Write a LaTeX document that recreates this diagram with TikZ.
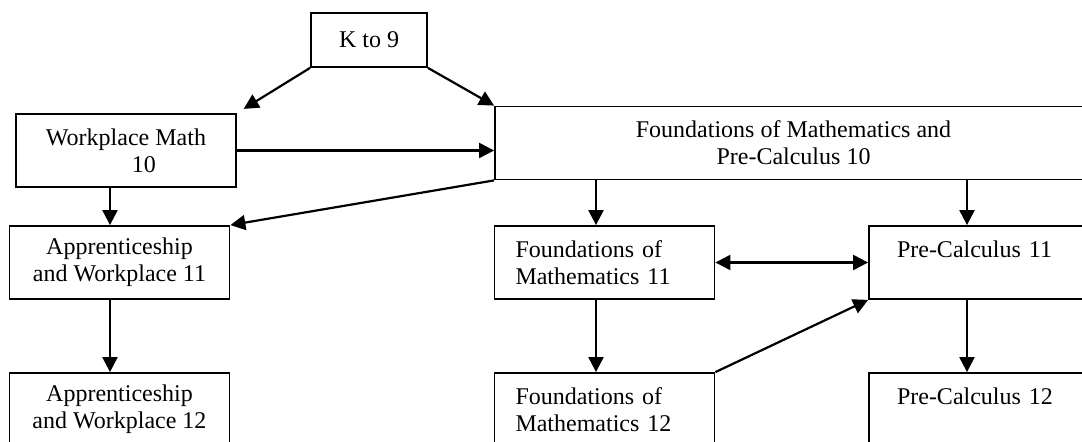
\documentclass[tikz,border=0pt]{standalone}
\usepackage{fontspec}
\setmainfont{Liberation Serif}
\usetikzlibrary{arrows.meta}

\begin{document}
\begin{tikzpicture}[x=0.5pt,y=-0.5pt,
    box/.style={draw, line width=0.9pt, minimum width=110pt, minimum height=36.5pt,
      inner sep=0pt, align=center, font=\fontsize{12}{13.5}\selectfont},
    fmbox/.style={box, align=left, inner xsep=10.5pt, text width=89pt},
    pcbox/.style={box, align=left, inner xsep=14pt, text width=82pt},
    arr/.style={-{Triangle[length=7.5pt,width=7.5pt]}, line width=1.1pt},
    darr/.style={{Triangle[length=7.5pt,width=7.5pt]}-{Triangle[length=7.5pt,width=7.5pt]}, line width=1.1pt}]

  \useasboundingbox (0,0) rectangle (1082,442);

  \begin{scope}
    \node[box, minimum width=58pt, minimum height=27pt] (k9) at (369,40) {K to 9};
    \node[box] (wm10) at (126,150.5) {Workplace Math\\\hspace*{18pt}10};
    \node[box, minimum width=298.5pt] (fmpc) at (793.5,143) {Foundations of Mathematics and\\Pre-Calculus 10};
    \node[box] (aw11) at (119.5,262.5) {Apprenticeship\\and Workplace 11};
    \node[fmbox] (fm11) at (604.5,262.5) {Foundations of\\Mathematics 11};
    \node[pcbox] (pc11) at (979,262.5) {Pre-Calculus 11\\\mbox{}};
    \node[box] (aw12) at (119.5,409.5) {Apprenticeship\\and Workplace 12};
    \node[fmbox] (fm12) at (604.5,409.5) {Foundations of\\Mathematics 12};
    \node[pcbox] (pc12) at (979,409.5) {Pre-Calculus 12\\\mbox{}};
  \end{scope}

  % columns of the down arrows
  \coordinate (colA) at (110,0);
  \coordinate (colB) at (596,0);
  \coordinate (colC) at (967,0);

  \begin{scope}
    \draw[arr, shorten >=4pt] (k9.south west) -- (wm10.north east);
    \draw[arr] (k9.south east) -- (fmpc.north west);
    \draw[arr] (wm10.east) -- (wm10.east -| fmpc.west);
    \draw[arr] (fmpc.south west) -- (aw11.north east);
    \draw[arr] (wm10.south -| colA) -- (aw11.north -| colA);
    \draw[arr] (aw11.south -| colA) -- (aw12.north -| colA);
    \draw[arr] (fmpc.south -| colB) -- (fm11.north -| colB);
    \draw[arr] (fm11.south -| colB) -- (fm12.north -| colB);
    \draw[arr] (fmpc.south -| colC) -- (pc11.north -| colC);
    \draw[arr] (pc11.south -| colC) -- (pc12.north -| colC);
    \draw[darr] (fm11.east) -- (pc11.west);
    \draw[arr] (fm12.north east) -- (pc11.south west);
  \end{scope}

\end{tikzpicture}
\end{document}
